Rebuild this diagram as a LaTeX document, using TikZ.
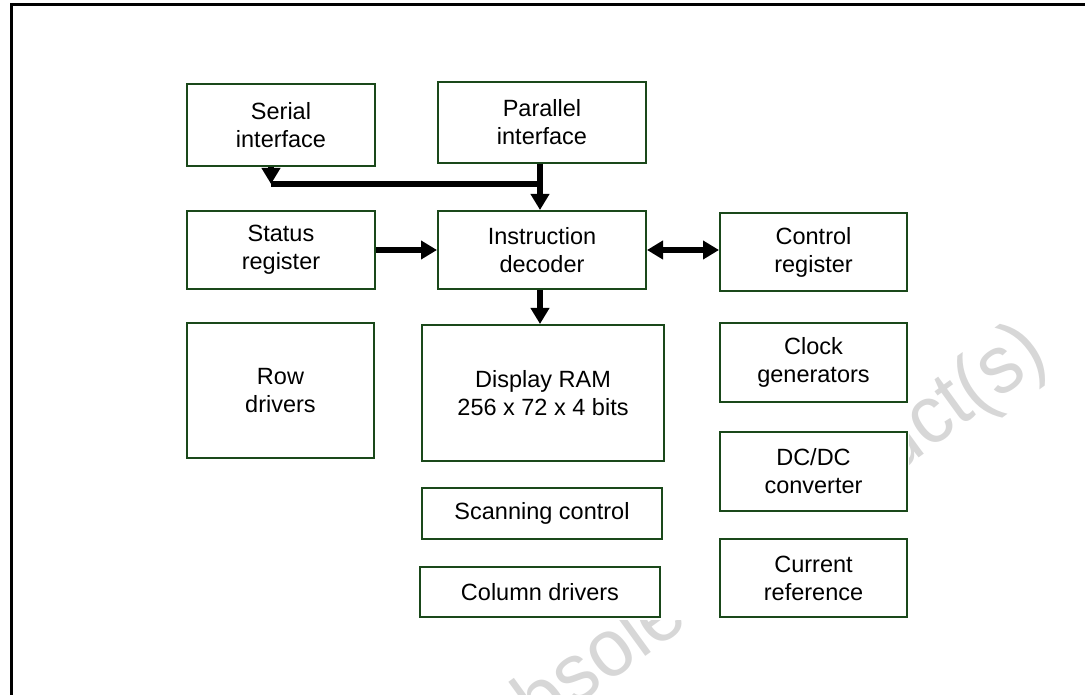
\documentclass[tikz,border=0pt]{standalone}
\usepackage{fontspec}
\setmainfont{Liberation Sans}
\usetikzlibrary{arrows.meta}
\definecolor{boxgreen}{RGB}{26,72,26}
\definecolor{wmgray}{RGB}{215,215,215}
\begin{document}
\begin{tikzpicture}[x=1pt,y=-1pt,
 box/.style={draw=boxgreen, line width=2pt, fill=white, align=center, inner sep=0pt, font=\fontsize{23.5}{28}\selectfont},
 bus/.style={line width=6.5pt, draw=black},
 arr/.style={bus, -{Triangle[length=16pt,width=18pt]}},
 darr/.style={bus, {Triangle[length=16pt,width=18pt]}-{Triangle[length=16pt,width=18pt]}}]
\useasboundingbox (0,0) rectangle (1085,695);
\node[text=wmgray, rotate=36, xscale=0.95, inner sep=0pt, anchor=base east, font=\fontsize{82}{82}\selectfont] (wm) at (1051,361.5) {Obsolete Product(s)};
\fill[white] (100,50) rectangle (909,620);
\draw[line width=3pt] (1085,4.5) -- (11.5,4.5) -- (11.5,695);

\node[box, minimum width=188pt, minimum height=82pt] (serial) at (281,125) {Serial\\interface};
\node[box, minimum width=208pt, minimum height=81pt] (parallel) at (542,122.5) {Parallel\\interface};
\node[box, minimum width=188pt, minimum height=78pt] (status) at (281,250) {Status\\register};
\node[box, minimum width=208pt, minimum height=78pt] (decoder) at (542,250) {Instruction\\decoder};
\node[box, minimum width=187pt, minimum height=78pt] (control) at (813.5,252) {Control\\register};
\node[box, minimum width=187pt, minimum height=135pt] (row) at (280.5,390.5) {Row\\drivers};
\node[box, minimum width=242pt, minimum height=136pt] (ram) at (543,393) {Display RAM\\256 x 72 x 4 bits};
\node[box, minimum width=187pt, minimum height=79pt] (clock) at (813.5,362.5) {Clock\\generators};
\node[box, minimum width=187pt, minimum height=79pt] (dcdc) at (813.5,471.5) {DC/DC\\converter};
\node[box, minimum width=187pt, minimum height=78pt] (current) at (813.5,578) {Current\\reference};
\node[box, minimum width=240pt, minimum height=51pt] (scan) at (542,513.5) {Scanning control};
\node[box, minimum width=240pt, minimum height=50pt] (column) at (540,592) {Column drivers};

\coordinate (j1) at (271,184);
\coordinate (j2) at (540,184);
\draw[arr] (j1 |- serial.south) -- (j1);
\draw[bus] (j1) -- (j2);
\draw[arr] (j2 |- parallel.south) -- (j2 |- decoder.north);
\draw[arr] (status.east) -- (decoder.west);
\draw[arr] (j2 |- decoder.south) -- (j2 |- ram.north);
\draw[darr] (decoder.east) -- (decoder.east -| control.west);
\end{tikzpicture}
\end{document}
